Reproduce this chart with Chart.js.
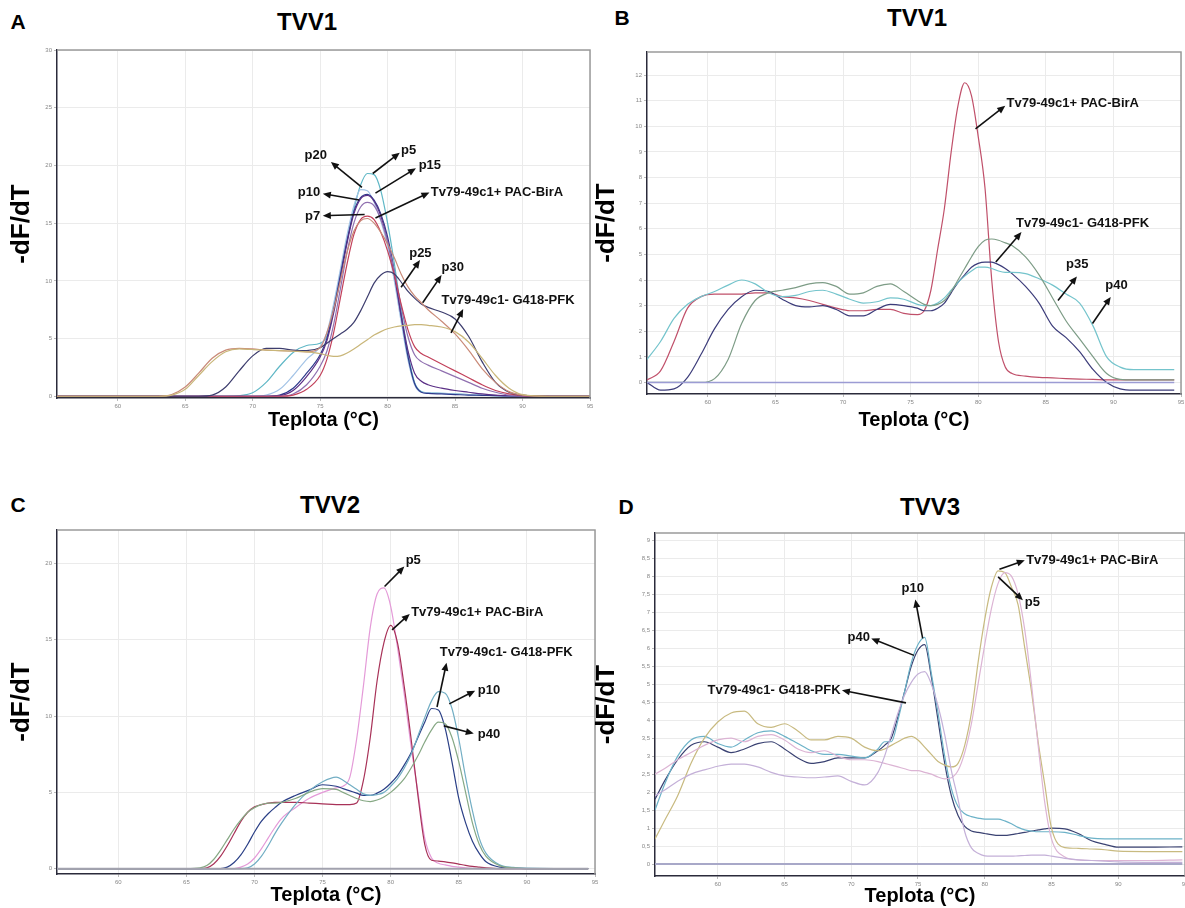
<!DOCTYPE html>
<html>
<head>
<meta charset="utf-8">
<script src="https://cdn.jsdelivr.net/npm/chart.js@4.4.0/dist/chart.umd.min.js"></script>
<style>
  body { margin: 0; background: #fff; width: 1185px; height: 908px; position: relative; overflow: hidden;
         font-family: "Liberation Sans", Arial, sans-serif; }
  .letter { position: absolute; font-weight: bold; font-size: 21px; transform: translate(-50%, -50%); }
  .ptitle { position: absolute; font-weight: bold; font-size: 24px; transform: translate(-50%, -50%); }
  canvas { position: absolute; }
</style>
</head>
<body>
<div class="letter" style="left:18px;top:22px">A</div>
<div class="ptitle" style="left:307px;top:22px">TVV1</div>
<div class="letter" style="left:622px;top:18px">B</div>
<div class="ptitle" style="left:917px;top:18px">TVV1</div>
<div class="letter" style="left:18px;top:505px">C</div>
<div class="ptitle" style="left:330px;top:505px">TVV2</div>
<div class="letter" style="left:626px;top:507px">D</div>
<div class="ptitle" style="left:930px;top:507px">TVV3</div>

<canvas id="cA" width="600" height="400" style="left:0;top:40px"></canvas>
<canvas id="cB" width="595" height="400" style="left:590px;top:40px"></canvas>
<canvas id="cC" width="600" height="408" style="left:0;top:500px"></canvas>
<canvas id="cD" width="595" height="408" style="left:590px;top:500px"></canvas>

<script>
// temperature ticks shared by all panels
const xTicks = [60, 65, 70, 75, 80, 85, 90, 95];

// ---- panel A (TVV1) ----
const aTemp = [55.5, 60, 63, 64, 65, 66, 67, 68, 69, 70, 71, 72, 73, 74, 75, 75.5, 76, 76.5, 77, 77.5,
               78, 78.5, 79, 79.5, 80, 80.5, 81, 81.5, 82, 82.5, 83, 84, 85, 86, 87, 88, 89, 90, 92, 95];
const aP5   = [0,0,0,0,0,0,0,0,0.05,0.3,1.2,2.6,3.8,4.4,4.6,5.2,7.5,10.5,13.5,16.2,
               18.3,19.3,19.2,17.8,15,11.5,7.5,3.8,1.2,0.4,0.3,0.25,0.2,0.15,0.1,0.05,0.02,0,0,0];
const aP20  = [0,0,0,0,0,0,0,0,0,0,0.1,0.6,1.8,3.2,4.3,5.5,8,11,14,16.5,
               17.9,17.8,16.8,15.2,13,10,6.5,3.2,1,0.35,0.3,0.25,0.2,0.15,0.1,0.05,0.02,0,0,0];
const aP15  = [0,0,0,0,0,0,0,0,0,0,0,0.1,0.7,2,3.6,5,7.5,10.5,13.5,16,
               17.2,17.5,17,15.8,13.8,10.8,7,3.5,1.1,0.35,0.25,0.2,0.15,0.1,0.08,0.05,0.03,0.02,0,0];
const aP10  = [0,0,0,0,0,0,0,0,0,0,0,0.05,0.5,1.7,3.4,4.8,7.2,10.2,13.3,15.8,
               17.1,17.4,16.9,15.6,13.5,10.5,7,4,2,1.3,1,0.7,0.5,0.35,0.2,0.1,0.05,0.02,0,0];
const aP7   = [0,0,0,0,0,0,0,0,0,0,0,0,0.2,1,2.6,3.9,6.2,9.3,12.5,15,
               16.4,16.8,16.5,15.3,13.4,10.8,7.8,5.2,3.6,3,2.7,2.2,1.7,1.2,0.7,0.35,0.1,0.02,0,0];
const aBirA = [0,0,0,0,0,0,0,0,0,0,0,0,0.1,0.6,1.8,3.2,5.5,8.5,11.5,14,
               15.3,15.6,15.3,14.2,12.6,10.5,8,5.8,4.3,3.7,3.4,2.8,2.2,1.6,1,0.5,0.2,0.05,0,0];
const aP30  = [0,0,0,0.15,0.8,2,3.3,4,4.15,4.1,4,3.95,3.9,3.85,4.2,5.5,7.5,10,12.5,14.3,
               15.2,15.4,15,14.2,13.2,12,10.6,9.5,8.7,8.1,7.5,6.5,5.4,4,2.4,1.2,0.4,0.1,0,0];
const aP25  = [0,0,0,0,0,0,0.1,0.8,2.2,3.5,4.15,4.15,4,3.95,4.2,4.6,5,5.4,5.8,6.4,
               7.4,8.6,9.8,10.5,10.8,10.6,9.9,9.1,8.5,8,7.7,7.3,6.7,5.2,3,1.2,0.35,0.1,0,0];
const aG418 = [0,0,0,0.1,0.6,1.8,3,3.85,4.1,4.05,4,3.95,3.9,3.85,3.7,3.55,3.45,3.5,3.75,4.1,
               4.5,4.9,5.3,5.6,5.85,6,6.1,6.15,6.2,6.2,6.15,6,5.6,4.7,3.3,1.8,0.7,0.15,0,0];
const aYTicks = [0, 5, 10, 15, 20, 25, 30];
const aNotes = [
  ['p20', 75.5, 20.9, 'right', 78.1, 18.1, 75.8, 20.3],
  ['p5', 81.0, 21.3, 'left', 78.9, 19.3, 80.9, 21.1],
  ['p15', 82.3, 20.0, 'left', 79.1, 17.6, 82.1, 19.75],
  ['Tv79-49c1+ PAC-BirA', 83.2, 17.65, 'left', 79.1, 15.45, 83.1, 17.65],
  ['p10', 75.0, 17.7, 'right', 77.9, 17.0, 75.2, 17.55],
  ['p7', 75.0, 15.6, 'right', 78.3, 15.75, 75.2, 15.65],
  ['p25', 81.6, 12.4, 'left', 81.0, 9.45, 82.4, 11.8],
  ['p30', 84.0, 11.2, 'left', 82.6, 8.1, 84.0, 10.5],
  ['Tv79-49c1- G418-PFK', 84.0, 8.3, 'left', 84.7, 5.5, 85.6, 7.55]
];

// ---- panel B (TVV1) ----
const bTemp = [55.5, 56.5, 57.5, 58.5, 59.5, 60.5, 61.5, 62.5, 63.5, 64.5, 65.5, 66.5, 67.5, 68.5, 69.5,
               70.5, 71.5, 72.5, 73.5, 74.5, 75.5, 76, 76.5, 77, 77.5, 78, 78.5, 79, 79.5, 80, 80.5, 81,
               81.5, 82, 82.5, 83.5, 84.5, 85.5, 86.5, 87.5, 88.5, 89.5, 90.5, 91.5, 92.5, 93.5, 94.5];
const bBirA = [0.1,0.45,1.6,2.9,3.35,3.45,3.45,3.45,3.5,3.5,3.35,3.3,3.2,3.05,2.9,
               2.8,2.8,2.85,2.85,2.7,2.65,2.8,3.6,5.2,6.8,9,10.8,11.7,11.2,9.6,7.6,4,
               1.6,0.6,0.35,0.25,0.2,0.18,0.15,0.13,0.12,0.1,0.1,0.1,0.1,0.1,0.1];
const bG418 = [0,-0.3,-0.25,0.2,1.1,2.1,2.85,3.35,3.6,3.55,3.25,3,2.95,3,2.85,
               2.6,2.6,2.85,3.05,3,2.9,2.8,2.8,2.9,3.1,3.5,3.9,4.2,4.5,4.65,4.7,4.7,
               4.6,4.45,4.25,3.75,3.1,2.2,1.75,1.2,0.5,0,-0.25,-0.3,-0.3,-0.3,-0.3];
const bP35  = [0,0,0,0,0,0.15,0.9,2.3,3.2,3.5,3.6,3.7,3.85,3.9,3.75,
               3.45,3.5,3.75,3.85,3.55,3.2,3.05,3,3.05,3.2,3.55,4,4.45,4.9,5.3,5.55,5.6,
               5.55,5.45,5.35,4.9,4.2,3.3,2.4,1.7,1,0.35,0.12,0.1,0.1,0.1,0.1];
const bP40  = [0.9,1.6,2.5,3.05,3.35,3.55,3.8,4,3.85,3.5,3.35,3.4,3.55,3.6,3.45,
               3.25,3.1,3.15,3.3,3.25,3.05,3,3,3.1,3.3,3.6,3.9,4.15,4.35,4.5,4.5,4.45,
               4.35,4.3,4.3,4.25,4.05,3.8,3.45,3.1,2.2,1,0.6,0.5,0.5,0.5,0.5];
const bBase = bTemp.map(() => 0);
const bYTicks = [0, 1, 2, 3, 4, 5, 6, 7, 8, 9, 10, 11, 12];
const bNotes = [
  ['Tv79-49c1+ PAC-BirA', 82.1, 10.9, 'left', 79.8, 9.9, 82.0, 10.8],
  ['Tv79-49c1- G418-PFK', 82.8, 6.2, 'left', 81.3, 4.7, 83.2, 5.87],
  ['p35', 86.5, 4.6, 'left', 85.9, 3.2, 87.3, 4.14],
  ['p40', 89.4, 3.8, 'left', 88.45, 2.3, 89.8, 3.34]
];

// ---- panel C (TVV2) ----
const cTemp = [55.5, 60, 65, 66, 66.5, 67, 67.5, 68, 68.5, 69, 69.5, 70, 70.5, 71, 71.5, 72, 73, 74, 75, 76,
               76.5, 77, 77.5, 78, 78.5, 79, 79.5, 80, 80.5, 81, 81.5, 82, 82.5, 83, 83.5, 84, 84.5, 85,
               85.5, 86, 86.5, 87, 88, 89, 90, 92, 94.5];
const cP5   = [0,0,0,0,0,0,0,0,0,0.1,0.3,0.7,1.3,2,2.7,3.3,4,4.6,5,5.3,
               5.4,6,8.5,12,15.8,18,18.4,17.2,14.5,11.4,8,5,2,0.7,0.35,0.25,0.15,0.1,
               0.05,0.02,0,0,0,0,0,0,0];
const cBirA = [0,0,0,0,0.05,0.3,0.8,1.5,2.3,3.1,3.7,4.05,4.2,4.3,4.35,4.35,4.35,4.3,4.25,4.2,
               4.2,4.2,4.3,5.8,8.6,12.3,14.8,15.95,14.8,11.9,8.5,4.8,1.6,0.55,0.5,0.45,0.38,0.3,
               0.22,0.15,0.1,0.05,0,0,0,0,0];
const cG418 = [0,0,0,0,0,0,0,0.1,0.4,0.9,1.6,2.4,3.1,3.6,4,4.35,4.8,5.15,5.5,5.4,
               5.25,5.1,4.95,4.8,4.8,4.95,5.2,5.6,6.1,6.8,7.6,8.6,9.6,10.5,10.4,9.2,7,4.6,
               3,1.8,1,0.45,0.1,0.03,0,0,0];
const cP10  = [0,0,0,0,0,0,0,0,0,0,0.05,0.3,0.8,1.5,2.3,3,4.2,5.1,5.7,6,
               5.8,5.5,5.2,4.9,4.8,4.85,5,5.4,5.9,6.6,7.5,8.7,9.9,11,11.6,11.5,10.5,8.5,
               6,3.8,2,1,0.25,0.08,0.03,0,0];
const cP40  = [0,0,0,0.05,0.2,0.6,1.2,1.9,2.6,3.2,3.7,4,4.2,4.3,4.3,4.35,4.6,5,5.25,5.2,
               5,4.8,4.6,4.45,4.4,4.5,4.7,5,5.4,5.9,6.6,7.4,8.3,9.1,9.6,9.5,8.6,7,
               5,3,1.6,0.8,0.2,0.05,0,0,0];
const cBase = cTemp.map(() => 0);
const cYTicks = [0, 5, 10, 15, 20];
const cNotes = [
  ['p5', 81.1, 20.2, 'left', 79.55, 18.5, 81.0, 19.8],
  ['Tv79-49c1+ PAC-BirA', 81.5, 16.8, 'left', 80.1, 15.65, 81.4, 16.7],
  ['Tv79-49c1- G418-PFK', 83.6, 14.2, 'left', 83.4, 10.6, 84.1, 13.5],
  ['p10', 86.4, 11.7, 'left', 84.3, 10.8, 86.2, 11.67],
  ['p40', 86.4, 8.77, 'left', 83.9, 9.36, 86.1, 8.86]
];

// ---- panel D (TVV3) ----
const dTemp = [55.3, 56, 57, 58, 59, 60, 61, 62, 63, 64, 65, 66, 67, 68, 69, 70, 71, 72, 72.5, 73,
               73.5, 74, 74.5, 75, 75.5, 76, 76.5, 77, 77.5, 78, 78.5, 79, 79.5, 80, 80.5, 81, 81.5,
               82, 82.5, 83, 83.5, 84, 84.5, 85, 86, 87, 88, 89, 90, 92, 94.8];
const dBirA = [0.7,1.2,1.9,2.8,3.5,3.95,4.2,4.25,3.9,3.8,3.9,3.7,3.45,3.45,3.55,3.5,3.25,3.15,3.2,3.3,
               3.4,3.5,3.55,3.45,3.25,3.05,2.85,2.75,2.7,2.8,3.3,4.2,5.6,6.8,7.7,8.15,8.1,
               7.7,7.2,6,4.8,3.4,2.2,1,0.46,0.44,0.42,0.4,0.36,0.35,0.35];
const dP5   = [2.5,2.65,2.9,3.1,3.3,3.45,3.5,3.4,3.55,3.6,3.45,3.2,3.1,3.15,3,2.9,2.9,2.85,2.8,2.75,
               2.7,2.65,2.6,2.6,2.55,2.5,2.42,2.37,2.4,2.6,3.1,3.9,5,6.1,7.1,7.8,8.1,
               8,7.5,6.5,5,3.3,1.7,0.7,0.2,0.12,0.1,0.1,0.1,0.1,0.12];
const dG418 = [1.9,2.05,2.3,2.5,2.62,2.72,2.78,2.78,2.7,2.55,2.45,2.42,2.4,2.42,2.45,2.3,2.2,2.55,3,3.6,
               4.2,4.7,5.05,5.28,5.35,5,4.4,3.6,2.6,1.8,0.9,0.45,0.3,0.23,0.22,0.22,0.22,
               0.22,0.23,0.24,0.25,0.25,0.25,0.22,0.16,0.12,0.1,0.08,0.06,0.05,0.05];
const dP10  = [1.5,2.2,3,3.45,3.55,3.35,3.25,3.45,3.65,3.7,3.55,3.35,3.15,3.05,3.05,3,2.95,3.2,3.4,3.4,
               4,4.8,5.6,6.1,6.3,5.3,4.2,3,2.1,1.6,1.4,1.32,1.28,1.25,1.25,1.25,1.2,
               1.12,1.02,0.95,0.92,0.9,0.9,0.9,0.88,0.8,0.72,0.7,0.7,0.7,0.7];
const dP40  = [1.8,2.3,2.9,3.3,3.4,3.25,3.1,3.2,3.35,3.4,3.2,2.95,2.8,2.85,2.95,2.95,2.95,3.15,3.3,3.5,
               4.1,4.8,5.5,5.95,6.1,5.2,4,2.8,1.9,1.35,1.05,0.92,0.88,0.85,0.82,0.8,0.8,
               0.82,0.85,0.88,0.92,0.95,0.98,1,0.98,0.85,0.65,0.55,0.47,0.47,0.48];
const dBase = dTemp.map(() => 0);
const dYTicks = [0, 0.5, 1, 1.5, 2, 2.5, 3, 3.5, 4, 4.5, 5, 5.5, 6, 6.5, 7, 7.5, 8, 8.5, 9];
const dNotes = [
  ['Tv79-49c1+ PAC-BirA', 83.1, 8.44, 'left', 81.1, 8.19, 83.0, 8.44],
  ['p5', 83.0, 7.26, 'left', 81.0, 7.98, 82.86, 7.33],
  ['p10', 74.6, 7.66, 'center', 75.35, 6.27, 74.8, 7.35],
  ['p40', 71.4, 6.31, 'right', 74.7, 5.8, 71.5, 6.27],
  ['Tv79-49c1- G418-PFK', 69.2, 4.83, 'right', 74.1, 4.48, 69.3, 4.83]
];

const FONT = '"Liberation Sans", Arial, sans-serif';

function series(temps, vals) {
  return vals.map((v, i) => ({ x: temps[i], y: v }));
}

// frame on top/right plus the arrow labels
const notesPlugin = {
  id: 'notes',
  afterDatasetsDraw(chart, args, opts) {
    const { ctx, chartArea, scales: { x, y } } = chart;
    ctx.save();
    ctx.strokeStyle = '#9a9a9a';
    ctx.lineWidth = 1.5;
    ctx.beginPath();
    ctx.moveTo(chartArea.left, chartArea.top);
    ctx.lineTo(chartArea.right, chartArea.top);
    ctx.lineTo(chartArea.right, chartArea.bottom);
    ctx.stroke();

    ctx.fillStyle = '#111';
    ctx.strokeStyle = '#111';
    ctx.lineWidth = 1.6;
    ctx.font = 'bold 13px ' + FONT;
    ctx.textBaseline = 'middle';
    opts.notes.forEach(n => {
      const [text, lx, ly, align, x0, y0, x1, y1] = n;
      const px0 = x.getPixelForValue(x0), py0 = y.getPixelForValue(y0);
      const px1 = x.getPixelForValue(x1), py1 = y.getPixelForValue(y1);
      const ang = Math.atan2(py1 - py0, px1 - px0);
      const hl = 8, hw = 3.5;
      ctx.beginPath();
      ctx.moveTo(px0, py0);
      ctx.lineTo(px1 - Math.cos(ang) * hl * 0.8, py1 - Math.sin(ang) * hl * 0.8);
      ctx.stroke();
      ctx.beginPath();
      ctx.moveTo(px1, py1);
      ctx.lineTo(px1 - hl * Math.cos(ang) + hw * Math.sin(ang), py1 - hl * Math.sin(ang) - hw * Math.cos(ang));
      ctx.lineTo(px1 - hl * Math.cos(ang) - hw * Math.sin(ang), py1 - hl * Math.sin(ang) + hw * Math.cos(ang));
      ctx.closePath();
      ctx.fill();
      ctx.textAlign = align;
      ctx.fillText(text, x.getPixelForValue(lx), y.getPixelForValue(ly));
    });
    ctx.restore();
  }
};

function tickLabel(v) {
  return Number.isInteger(v) ? String(v) : String(v).replace('.', ',');
}

function drawPanel(id, temps, lines, xMin, yMin, yMax, yTicks, notes, geo) {
  new Chart(document.getElementById(id), {
    type: 'line',
    data: {
      datasets: lines.map(l => ({
        data: series(temps, l[0]),
        borderColor: l[1],
        borderWidth: l[2] || 1.2,
        pointRadius: 0,
        cubicInterpolationMode: 'monotone',
        fill: false
      }))
    },
    options: {
      responsive: false,
      animation: false,
      events: [],
      layout: { padding: { left: 0, top: geo.top, right: geo.right, bottom: 0 } },
      plugins: { legend: { display: false }, tooltip: { enabled: false }, notes: { notes: notes } },
      scales: {
        x: {
          type: 'linear', min: xMin, max: 95,
          afterBuildTicks: s => { s.ticks = xTicks.map(v => ({ value: v })); },
          afterFit: s => { s.height = geo.xh; s.paddingLeft = 0; s.paddingRight = 0; },
          grid: { color: '#ebebeb', lineWidth: 1, tickLength: 3, tickColor: '#bbb' },
          border: { color: '#2b2b3b', width: 1.5 },
          ticks: { autoSkip: false, maxRotation: 0, padding: 2, color: '#888', font: { size: 6, family: FONT } },
          title: { display: true, text: 'Teplota (°C)', color: '#000',
                   font: { size: 20, weight: 'bold', family: FONT }, padding: { top: 0, bottom: geo.xtp } }
        },
        y: {
          min: yMin, max: yMax,
          afterBuildTicks: s => { s.ticks = yTicks.map(v => ({ value: v })); },
          afterFit: s => { s.width = geo.yw; s.paddingTop = 0; s.paddingBottom = 0; },
          grid: { color: '#ebebeb', lineWidth: 1, tickLength: 3, tickColor: '#bbb' },
          border: { color: '#2b2b3b', width: 1.5 },
          ticks: { autoSkip: false, padding: 2, color: '#888', font: { size: 6, family: FONT }, callback: tickLabel },
          title: { display: true, text: '-dF/dT', color: '#000',
                   font: { size: 26, weight: 'bold', family: FONT }, padding: { top: geo.ytp, bottom: 0 } }
        }
      }
    },
    plugins: [notesPlugin]
  });
}

drawPanel('cA', aTemp, [
  [aG418, '#c9b679'], [aP30, '#c98a78'], [aP25, '#3d3d6e'], [aBirA, '#c2405a'], [aP7, '#9070b0'],
  [aP10, '#5b2f86'], [aP15, '#2f3a8c'], [aP20, '#a3c3e6'], [aP5, '#5fb7c6']
], 55.5, -0.15, 30, aYTicks, aNotes, { top: 10, right: 10, xh: 42, yw: 57, xtp: 8, ytp: 6 });

drawPanel('cB', bTemp, [
  [bBase, '#9c9cd4', 1.5], [bP35, '#7d9c86'], [bP40, '#74c4cc'], [bG418, '#3c3c7a'], [bBirA, '#c0506a']
], 55.5, -0.45, 12.9, bYTicks, bNotes, { top: 12, right: 4, xh: 46, yw: 57, xtp: 8, ytp: 1 });

drawPanel('cC', cTemp, [
  [cBase, '#a2a2ae', 2], [cP40, '#86a884'], [cP10, '#72aec4'], [cG418, '#2a3f86'], [cBirA, '#a83258'], [cP5, '#e49ad8']
], 55.5, -0.35, 22.2, cYTicks, cNotes, { top: 30, right: 5, xh: 34, yw: 57, xtp: 1, ytp: 6 });

drawPanel('cD', dTemp, [
  [dBase, '#a8a8c8', 2], [dG418, '#c4b0d8'], [dP5, '#dcb4d4'], [dBirA, '#c8ba80'], [dP10, '#6cb2c8'], [dP40, '#3a4272']
], 55.3, -0.33, 9.2, dYTicks, dNotes, { top: 33, right: 0, xh: 32, yw: 65, xtp: 0, ytp: 1 });
</script>
</body>
</html>
